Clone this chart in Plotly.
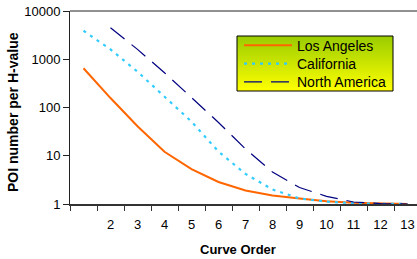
import base64
import plotly.graph_objects as go

# ---- data ----
curve_order = [1, 2, 3, 4, 5, 6, 7, 8, 9, 10, 11, 12, 13]
los_angeles = [650, 157, 41, 12.1, 5.3, 2.86, 1.9, 1.5, 1.3, 1.14, 1.06, 1.02, 1.0]
california = [3900, 1600, 552, 167, 51, 12.2, 4.2, 2.0, 1.3, 1.12, 1.04, 1.01, 1.0]
north_america = [None, 4500, 1600, 525, 163, 49, 13.8, 4.6, 2.2, 1.44, 1.1, 1.02, 1.0]
x_tick_labels = ["2", "3", "4", "5", "6", "7", "8", "9", "10", "11", "12", "13"]
x_tick_vals = [2, 3, 4, 5, 6, 7, 8, 9, 10, 11, 12, 13]
y_tick_vals = [1, 10, 100, 1000, 10000]
y_tick_labels = ["1", "10", "100", "1000", "10000"]

W, H = 417, 259
PL, PR, PT, PB = 70, 417, 11, 204          # plot area in page pixels
ML, MR, MT, MB = PL, W - PR, PT, H - PB
PW, PH = W - ML - MR, H - MT - MB


def px(x):
    return (x - PL) / PW


def py(y):
    return (PB - y) / PH


FONT = "Liberation Sans, Arial, sans-serif"

fig = go.Figure()
fig.add_trace(go.Scatter(x=curve_order, y=los_angeles, name="Los Angeles", mode="lines",
                         line=dict(color="#FF6600", width=2), legend="legend"))
fig.add_trace(go.Scatter(x=curve_order, y=california, name="California", mode="lines",
                         line=dict(color="#33CCFF", width=2.2, dash="3px,5px"), legend="legend2"))
fig.add_trace(go.Scatter(x=curve_order, y=north_america, name="North America", mode="lines",
                         line=dict(color="#000080", width=1.2, dash="18px,9px"), legend="legend3"))

# gradient legend background
svg = ('<svg xmlns="http://www.w3.org/2000/svg" width="100" height="100" preserveAspectRatio="none">'
       '<defs><linearGradient id="g" x1="0" y1="0" x2="0" y2="1">'
       '<stop offset="0" stop-color="#99CC00"/><stop offset="1" stop-color="#FFFF00"/>'
       '</linearGradient></defs><rect width="100" height="100" fill="url(#g)"/></svg>')
src = "data:image/svg+xml;base64," + base64.b64encode(svg.encode()).decode()

lx0, lx1, ly0, ly1 = 237, 393, 36, 91
fig.add_layout_image(dict(source=src, xref="paper", yref="paper", x=px(lx0), y=py(ly0),
                          sizex=px(lx1) - px(lx0), sizey=py(ly0) - py(ly1),
                          xanchor="left", yanchor="top", sizing="stretch", layer="above"))
fig.add_shape(type="rect", xref="paper", yref="paper", x0=px(lx0), x1=px(lx1),
              y0=py(ly1), y1=py(ly0), line=dict(color="black", width=1))
# top border of plot area
fig.add_shape(type="line", xref="paper", yref="paper", x0=0, x1=1, y0=1, y1=1,
              line=dict(color="#222222", width=1))

# axis titles
fig.add_annotation(text="<b>POI number per H-value</b>", xref="paper", yref="paper",
                   x=px(13), y=py(112), textangle=-90, showarrow=False,
                   xanchor="center", yanchor="middle", borderpad=0,
                   font=dict(family=FONT, size=14, color="black"))
fig.add_annotation(text="<b>Curve Order</b>", xref="paper", yref="paper",
                   x=px(238), y=py(249), showarrow=False,
                   xanchor="center", yanchor="middle",
                   font=dict(family=FONT, size=13, color="black"))

LEG_X = 239
row_y = [44.7, 63, 81.3]
leg_common = dict(xanchor="left", yanchor="top", bgcolor="rgba(0,0,0,0)", borderwidth=0,
                  font=dict(family=FONT, size=14, color="black"), itemwidth=48)

fig.update_layout(
    width=W, height=H,
    margin=dict(l=ML, r=MR, t=MT, b=MB, pad=0, autoexpand=False),
    paper_bgcolor="white", plot_bgcolor="white",
    font=dict(family=FONT, size=13, color="black"),
    showlegend=True,
    legend=dict(x=px(LEG_X), y=py(row_y[0] - 15), **leg_common),
    legend2=dict(x=px(LEG_X), y=py(row_y[1] - 15), **leg_common),
    legend3=dict(x=px(LEG_X), y=py(row_y[2] - 15), **leg_common),
)
fig.update_xaxes(
    automargin=False,
    range=[0.5, 0.5 + PW / 27.0],
    tickmode="array", tickvals=x_tick_vals, ticktext=x_tick_labels,
    ticks="outside", ticklen=7, tickcolor="rgba(0,0,0,0)",
    minor=dict(tickmode="array", tickvals=[i + 0.5 for i in range(14)],
               ticks="outside", ticklen=5, tickcolor="#333333", tickwidth=1, showgrid=False),
    showline=True, linecolor="#333333", linewidth=2,
    showgrid=False, zeroline=False, ticklabeloverflow="allow",
    tickfont=dict(family=FONT, size=13),
)
fig.update_yaxes(
    automargin=False,
    type="log", range=[0, 4],
    tickmode="array", tickvals=y_tick_vals, ticktext=y_tick_labels,
    ticks="outside", ticklen=6, tickcolor="#222222",
    showline=True, linecolor="#222222", linewidth=1,
    showgrid=False, zeroline=False, ticklabeloverflow="allow",
    tickfont=dict(family=FONT, size=13),
)

# remove the browser's default 8px body margin so the figure sits at the page origin
fig.write_html("out.html", config={"displayModeBar": False},
               post_script="document.body.style.margin='0px';")
